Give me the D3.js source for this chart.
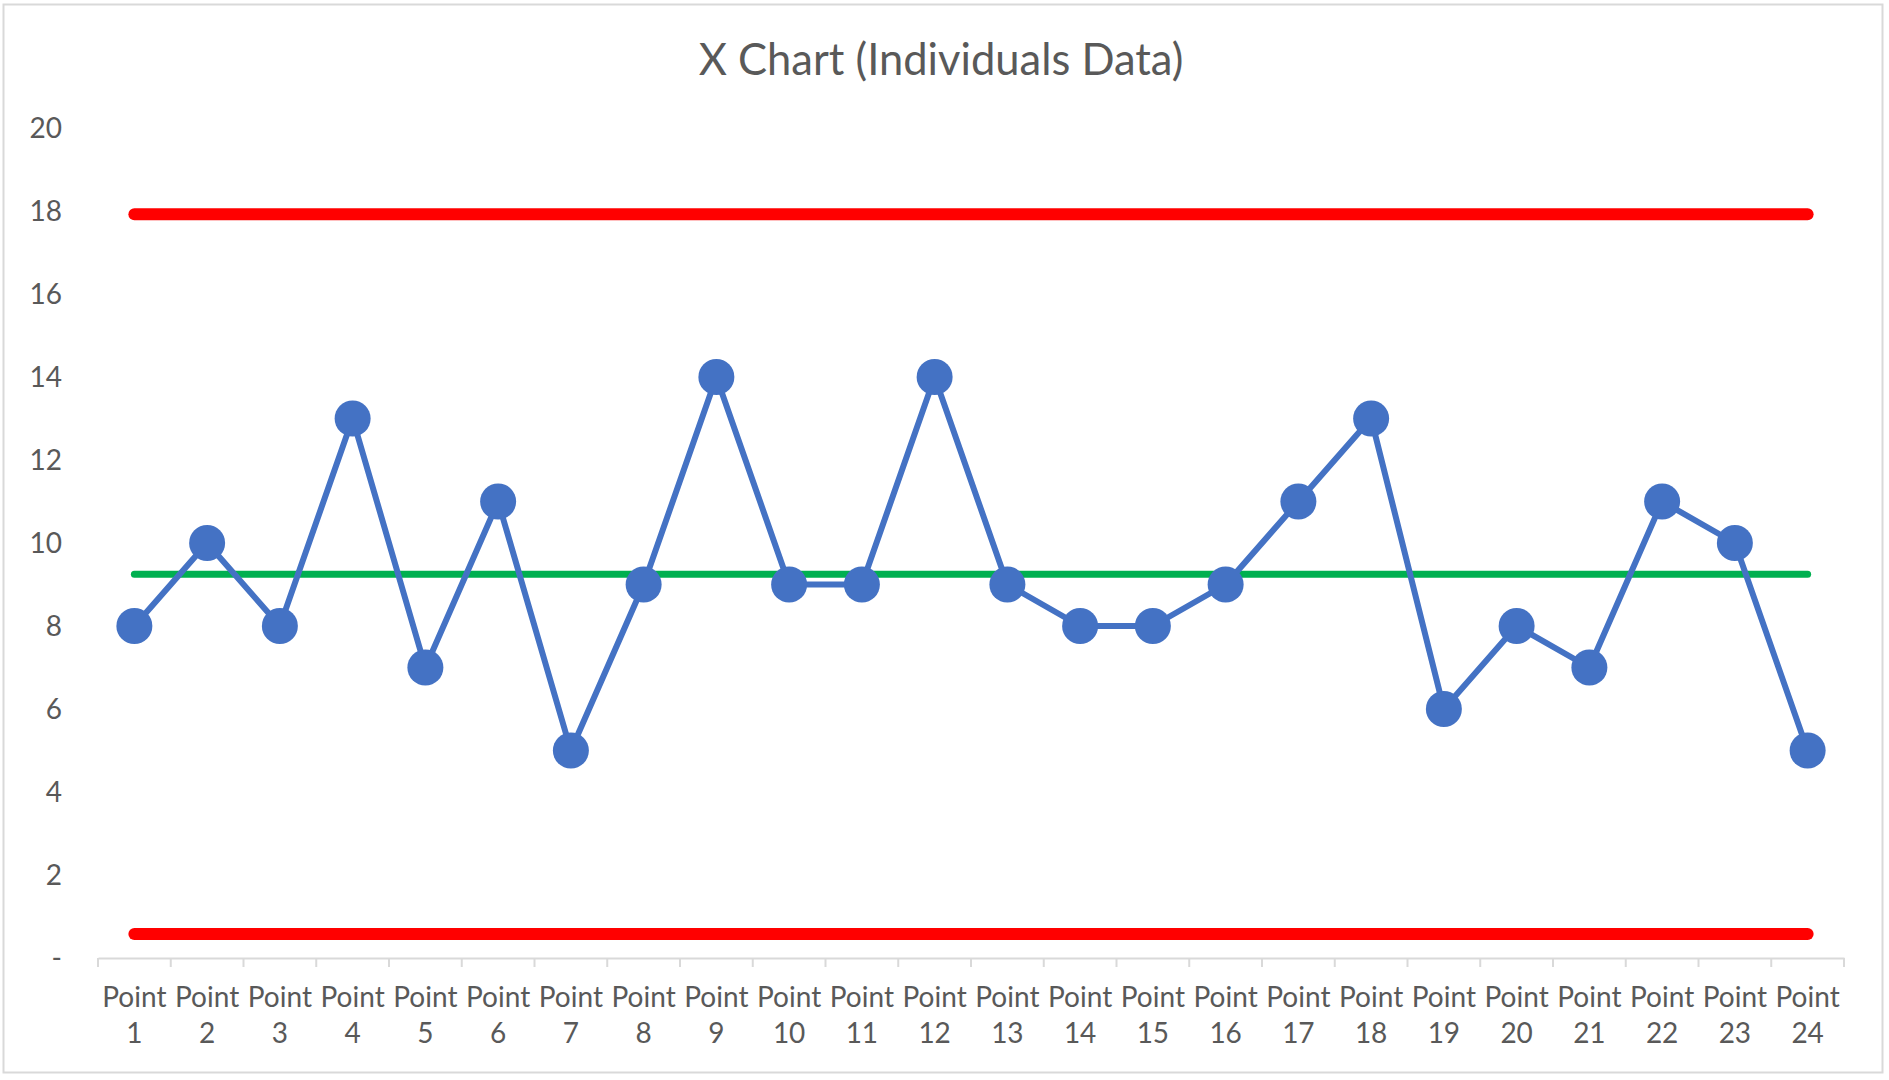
<!DOCTYPE html>
<html><head><meta charset="utf-8">
<script src="https://cdn.jsdelivr.net/npm/d3@7"></script>
<style>
html,body{margin:0;padding:0;background:#fff;}
svg{display:block;}
text{font-family:Lato,"Open Sans",sans-serif;fill:#595959;}
</style></head>
<body>
<svg id="chart" width="1889" height="1080"></svg>
<script>
const title = "X Chart (Individuals Data)";
const categories = ["Point 1","Point 2","Point 3","Point 4","Point 5","Point 6","Point 7","Point 8","Point 9","Point 10","Point 11","Point 12","Point 13","Point 14","Point 15","Point 16","Point 17","Point 18","Point 19","Point 20","Point 21","Point 22","Point 23","Point 24"];
const values = [8,10,8,13,7,11,5,9,14,9,9,14,9,8,8,9,11,13,6,8,7,11,10,5];
const meanValue = 9.25;
const uclValue = 17.92;
const lclValue = 0.58;
const yTicks = [0,2,4,6,8,10,12,14,16,18,20];

const svg = d3.select("#chart");
const m = {left: 98, right: 1844, top: 128, bottom: 958};

svg.append("rect").attr("x",3.5).attr("y",4.5).attr("width",1879).attr("height",1068)
  .attr("fill","#fff").attr("stroke","#d9d9d9").attr("stroke-width",2);

svg.append("text").attr("x",941).attr("y",75).attr("text-anchor","middle")
  .style("font-size","43.5px").text(title);

const x = d3.scaleBand().domain(categories).range([m.left, m.right]);
const y = d3.scaleLinear().domain([0,20]).range([m.bottom, m.top]);
const cx = d => x(d) + x.bandwidth()/2;

// y axis labels
const yAxis = d3.axisLeft(y).tickValues(yTicks).tickSize(0).tickPadding(0)
  .tickFormat(d => d === 0 ? "-" : d);
const gy = svg.append("g").attr("transform","translate(62,0)").call(yAxis);
gy.select(".domain").remove();
gy.selectAll("text").style("font-size","28px").attr("fill","#595959").attr("dy","0.35em")
  .style("font-family","Lato,'Open Sans',sans-serif");

// x axis
const xAxis = d3.axisBottom(x).tickSize(0).tickFormat("");
const gx = svg.append("g").attr("transform",`translate(0,${m.bottom})`).call(xAxis);
gx.select(".domain").attr("stroke","#d9d9d9").attr("stroke-width",2);
gx.selectAll(".tick").remove();
const bounds = categories.map(c => x(c)).concat([m.right]);
svg.append("g").selectAll("line").data(bounds).join("line")
  .attr("x1",d=>d).attr("x2",d=>d).attr("y1",m.bottom).attr("y2",m.bottom+9)
  .attr("stroke","#d9d9d9").attr("stroke-width",2);

const lbl = svg.append("g").selectAll("text").data(categories).join("text")
  .attr("x", d => cx(d)).attr("text-anchor","middle").style("font-size","28px");
lbl.append("tspan").attr("x", d=>cx(d)).attr("y",1007).text(d => d.split(" ")[0]);
lbl.append("tspan").attr("x", d=>cx(d)).attr("y",1043).text(d => d.split(" ")[1]);

// control limits
const limLine = (v, color, w) => svg.append("line")
  .attr("x1", cx(categories[0])).attr("x2", cx(categories[categories.length-1]))
  .attr("y1", y(v)).attr("y2", y(v)).attr("stroke", color).attr("stroke-width", w)
  .attr("stroke-linecap","round");
limLine(uclValue, "#FF0000", 12);
limLine(lclValue, "#FF0000", 12);
limLine(meanValue, "#00B050", 7);

// data line
const line = d3.line().x((d,i)=>cx(categories[i])).y(d=>y(d));
svg.append("path").datum(values).attr("d", line).attr("fill","none")
  .attr("stroke","#4472C4").attr("stroke-width",6).attr("stroke-linejoin","round");
svg.append("g").selectAll("circle").data(values).join("circle")
  .attr("cx",(d,i)=>cx(categories[i])).attr("cy",d=>y(d)).attr("r",18).attr("fill","#4472C4");
</script>
</body></html>
